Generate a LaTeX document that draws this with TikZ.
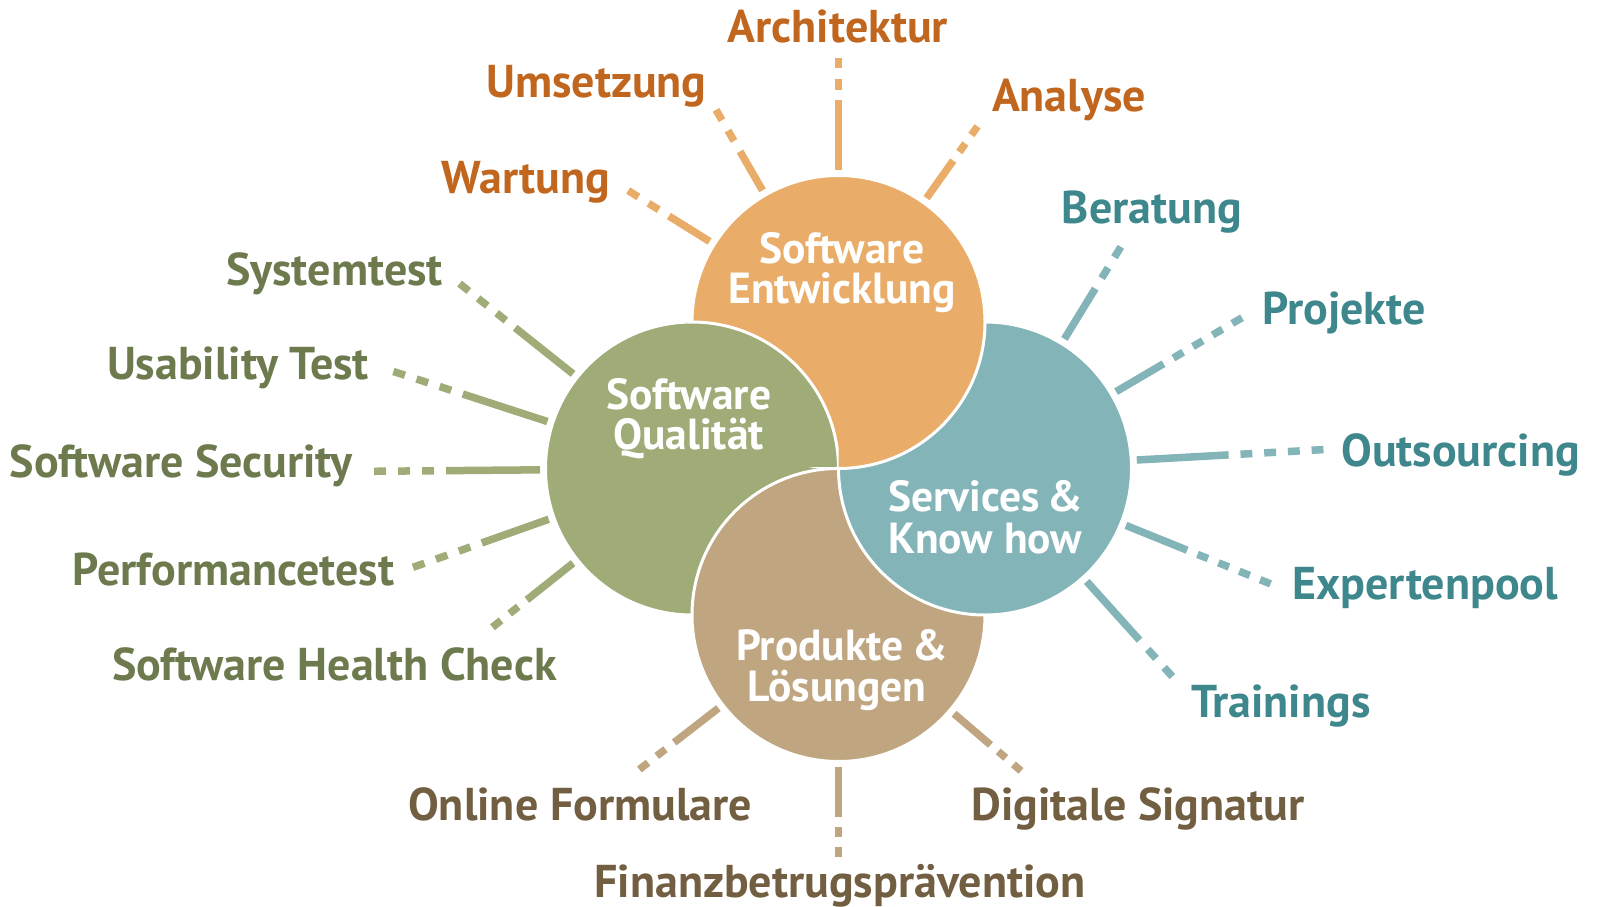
\documentclass[tikz,border=0pt]{standalone}
\usepackage{fontspec}
\setmainfont{PT Sans}
\usetikzlibrary{calc}
\definecolor{orC}{HTML}{E9AD69}
\definecolor{orT}{HTML}{C0661E}
\definecolor{grC}{HTML}{A0AC78}
\definecolor{grT}{HTML}{6C7A4E}
\definecolor{teC}{HTML}{83B4B8}
\definecolor{teT}{HTML}{3E878C}
\definecolor{taC}{HTML}{BFA680}
\definecolor{taT}{HTML}{725E40}
\newcommand\spk[7]{%
  \pgfmathsetmacro\hp{(#5-#4)/#6/2}%
  \coordinate (#1a) at ($(#2)+(#3:152)$);
  \coordinate (#1b) at ($(#2)+(#3:#4)$);
  \coordinate (#1c) at ($(#2)+(#3:#5)$);
  \draw[spokeline,#7] (#1a) -- (#1b);
  \draw[spokeline,#7,dash pattern=on \hp pt off \hp pt,dash phase=\hp pt] (#1b) -- (#1c);
}
\begin{document}
\begin{tikzpicture}[x=1pt,y=-1pt,
  lbl/.style={font=\fontsize{46}{52}\selectfont\bfseries, inner sep=0pt},
  ctext/.style={font=\fontsize{43.5}{50}\selectfont\bfseries, text=white, inner sep=0pt, anchor=base},
  spokeline/.style={line width=7.5pt},
  disc/.style={circle, minimum size=293pt, inner sep=0pt, draw=white, line width=3pt}]
\useasboundingbox (0,0) rectangle (1598,907);
% circles
\node[disc, fill=grC] (G) at (692,468.5) {};
\node[disc, fill=taC] (P) at (838.5,615) {};
\node[disc, fill=teC] (T) at (985,468.5) {};
\node[disc, fill=orC] (O) at (838.5,322) {};
\begin{scope}
  \clip (O) circle[radius=151pt];
  \clip (500,100) rectangle (838.5,466.5);
  \fill[grC] (G) circle[radius=146.5pt];
  \draw[white, line width=3pt] (G) circle[radius=146.5pt];
\end{scope}
% spokes
\spk{arch}{O}{-90}{222}{264}{2}{orC}
\spk{ums}{O}{-120}{197}{245}{2}{orC}
\spk{ana}{O}{-54.6}{198}{240}{2}{orC}
\spk{war}{O}{-148}{200}{248}{2}{orC}
\spk{sys}{G}{-141.5}{226}{297}{3}{grC}
\spk{usa}{G}{-162}{241}{314}{3}{grC}
\spk{sec}{G}{179.5}{246}{318}{3}{grC}
\spk{perf}{G}{160.5}{223}{296}{3}{grC}
\spk{hc}{G}{141.5}{211}{255}{2}{grC}
\spk{ber}{T}{-58.5}{211}{260}{2}{teC}
\spk{proj}{T}{-30.4}{207}{298}{4}{teC}
\spk{out}{T}{-3.2}{244}{339}{4}{teC}
\spk{exp}{T}{22}{218}{308}{4}{teC}
\spk{tra}{T}{48}{231}{280}{2}{teC}
\spk{fin}{P}{90}{202}{242}{2}{taC}
\spk{onl}{P}{142.2}{208}{252}{2}{taC}
\spk{dig}{P}{40.5}{200}{240}{2}{taC}
% circle texts
\node[ctext] (se1) at (842,263) {Software};
\node[ctext] (se2) at (842,303.5) {Entwicklung};
\node[ctext] (sq1) at (689,409.5) {Software};
\node[ctext] (sq2) at (688.5,449.5) {Qualität};
\node[ctext] (sk1) at (985.5,511) {Services\hspace{0.17em}\&};
\node[ctext] (sk2) at (985.5,553) {Know how};
\node[ctext] (pl1) at (842,660.5) {Produkte\hspace{0.2em}\&};
\node[ctext] (pl2) at (837,701) {Lösungen};
% labels orange
\node[lbl, text=orT, anchor=base] (lArch) at (838,42.7) {Architektur};
\node[lbl, text=orT, anchor=base] (lUms) at (596.5,97) {Umsetzung};
\node[lbl, text=orT, anchor=base] (lAna) at (1069,111) {Analyse};
\node[lbl, text=orT, anchor=base] (lWar) at (526,193) {Wartung};
% labels green
\node[lbl, text=grT, anchor=base east] (lSys) at (443,285) {Systemtest};
\node[lbl, text=grT, anchor=base east] (lUsa) at (369,379) {Usability Test};
\node[lbl, text=grT, anchor=base east] (lSec) at (353,477) {Software Security};
\node[lbl, text=grT, anchor=base east] (lPerf) at (394.5,585) {Performancetest};
\node[lbl, text=grT, anchor=base] (lHC) at (334.5,680) {Software Health Check};
% labels teal
\node[lbl, text=teT, anchor=base] (lBer) at (1152,223.5) {Beratung};
\node[lbl, text=teT, anchor=base west] (lProj) at (1262,324) {Projekte};
\node[lbl, text=teT, anchor=base west] (lOut) at (1341,466) {Outsourcing};
\node[lbl, text=teT, anchor=base west] (lExp) at (1292,599.5) {Expertenpool};
\node[lbl, text=teT, anchor=base west] (lTra) at (1191,717.5) {Trainings};
% labels tan
\node[lbl, text=taT, anchor=base] (lOnl) at (580,820.5) {Online Formulare};
\node[lbl, text=taT, anchor=base] (lDig) at (1138,820.5) {Digitale Signatur};
\node[lbl, text=taT, anchor=base] (lFin) at (840,897) {Finanzbetrugsprävention};
\end{tikzpicture}
\end{document}
